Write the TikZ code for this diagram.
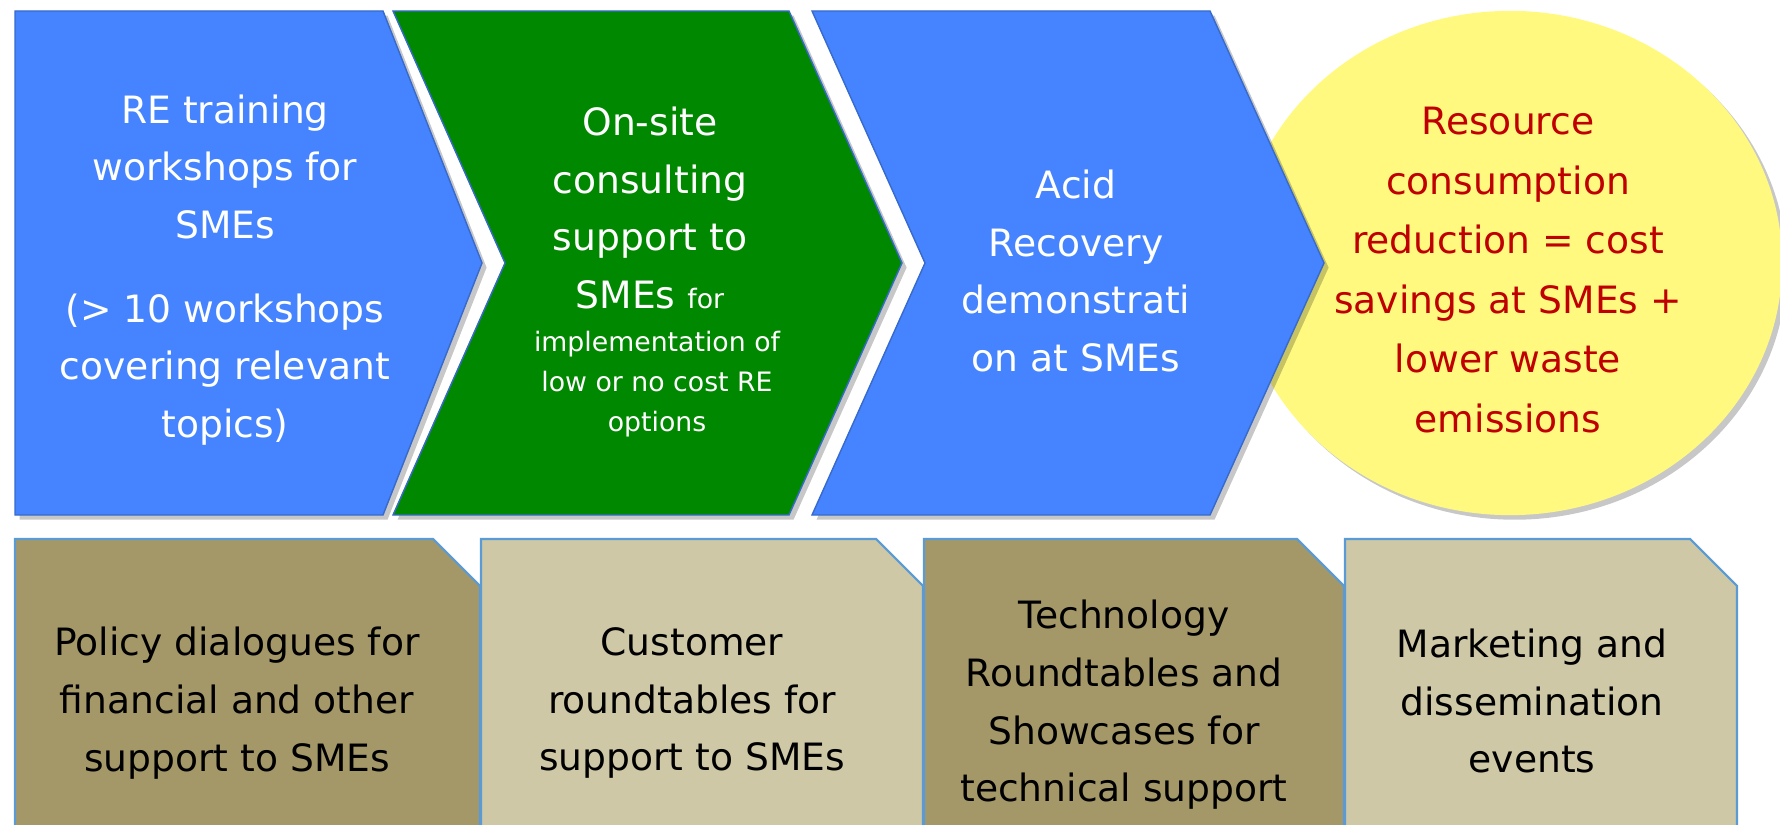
\documentclass[tikz,border=0pt]{standalone}
\usepackage{fontspec}
\setmainfont{DejaVu Sans}
\usetikzlibrary{shapes.geometric,shadows}
\definecolor{stepblue}{HTML}{4584FE}
\definecolor{stepgreen}{HTML}{008800}
\definecolor{resultyellow}{HTML}{FFFA7F}
\definecolor{resultred}{HTML}{C00000}
\definecolor{supportdark}{HTML}{A59868}
\definecolor{supportlight}{HTML}{CEC8A6}
\definecolor{boxedgecolor}{HTML}{5B9BD5}
\colorlet{edgecolor}{stepblue!80!black}
\tikzset{shapebase/.style={line width=0.4pt, draw=edgecolor, drop shadow={shadow xshift=1.3pt, shadow yshift=-1.3pt, opacity=0.22, fill=black}},%
    bluestep/.style={shapebase, fill=stepblue},%
    greenstep/.style={shapebase, fill=stepgreen},%
    result/.style={shapebase, draw=none, fill=resultyellow, shape=ellipse, inner sep=0pt, minimum width=5.44cm, minimum height=5.04cm},%
    supportbase/.style={line width=0.6pt, draw=boxedgecolor},%
    darksupport/.style={supportbase, fill=supportdark},%
    lightsupport/.style={supportbase, fill=supportlight},%
    bigtext/.style={align=center, inner sep=0pt, font=\fontsize{10.7}{16.4}\selectfont},%
    smallfont/.style={font=\fontsize{7.6}{11.4}\selectfont}%
}

\begin{document}
\begin{tikzpicture}[x=0.01cm, y=-0.01cm]
    \useasboundingbox (0,0) rectangle (1780,825);
    \clip (0,0) rectangle (1780,825);
    \begin{scope} %result ellipse, behind the last step
        \node[result] (result) at (1510,263) {};
        \node[bigtext, font=\fontsize{10.7}{16.9}\selectfont, text=resultred] (resulttext) at (1508,270) {Resource\\consumption\\reduction = cost\\savings at SMEs +\\lower waste\\emissions};
    \end{scope}
    \begin{scope} %draw steps
        \foreach \steptype/\xleft/\xnotch/\xright/\xtip in {%
                bluestep/15/15/383/482,
                greenstep/393/505/789/902,
                bluestep/812/925/1210/1324
            } \draw[\steptype] (\xleft,11) -- (\xright,11) -- (\xtip,263) -- (\xright,515) -- (\xleft,515) -- (\xnotch,263) -- cycle;
    \end{scope}
    \begin{scope} %draw support boxes
        \foreach \boxtype/\xleft/\xright in {%
                darksupport/15/480,
                lightsupport/481/923,
                darksupport/924/1344,
                lightsupport/1345/1737
            } \draw[\boxtype] (\xleft,539) -- ({\xright-47},539) -- (\xright,586) -- (\xright,840) -- (\xleft,840) -- cycle;
    \end{scope}
    \begin{scope} %add step labels
        \node[bigtext, text=white] (training) at (225,270) {RE training\\workshops for\\SMEs\\[7.4pt](> 10 workshops\\covering relevant\\topics)};
        \node[bigtext, text=white] (consulting) at (650,208) {On-site\\consulting\\support to\\SMEs {\fontsize{7.6}{11.4}\selectfont for}};
        \node[bigtext, smallfont, text=white] (consultingnote) at (657,384) {implementation of\\low or no cost RE\\options};
        \node[bigtext, text=white] (recovery) at (1076,271) {Acid\\Recovery\\demonstrati\\on at SMEs};
    \end{scope}
    \begin{scope} %add support labels
        \node[bigtext] (policy) at (237,703) {Policy dialogues for\\financial and other\\support to SMEs};
        \node[bigtext] (customer) at (692,703) {Customer\\roundtables for\\support to SMEs};
        \node[bigtext] (technology) at (1124,705) {Technology\\Roundtables and\\Showcases for\\technical support};
        \node[bigtext] (marketing) at (1532,701) {Marketing and\\dissemination\\events};
    \end{scope}
\end{tikzpicture}
\end{document}
